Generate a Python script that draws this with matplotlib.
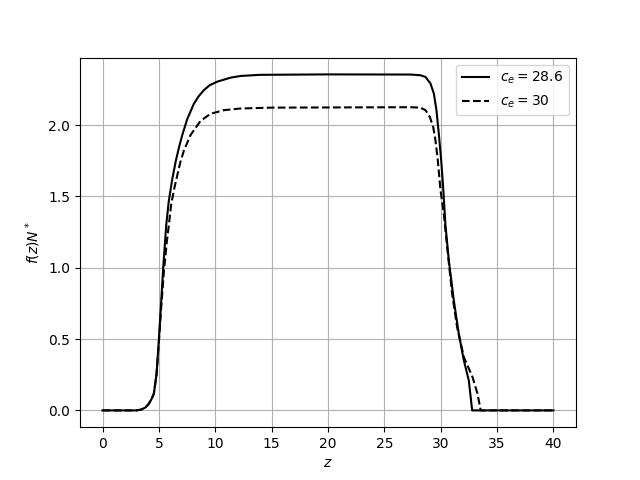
import matplotlib
matplotlib.use("Agg")
import matplotlib.pyplot as plt
import numpy as np

# values
z_a = [0, 3.0, 3.4, 3.8, 4.11, 4.35, 4.55, 4.79, 5.0, 5.2, 5.38, 5.65, 5.88, 6.18, 6.5,
       6.8, 7.07, 7.5, 8.1, 8.5, 8.98, 9.5, 10.17, 11.35, 12.24, 14, 20, 27.3, 28.2, 28.65,
       29.09, 29.39, 29.62, 29.83, 30.04, 30.21, 30.42, 30.72, 31.16, 31.6, 32.05, 32.49, 32.79, 40]
f_a = [0, 0, 0.005, 0.02, 0.047, 0.08, 0.117, 0.257, 0.5, 0.76, 1.0, 1.3, 1.47, 1.62, 1.75,
       1.85, 1.93, 2.04, 2.15, 2.2, 2.245, 2.28, 2.305, 2.333, 2.345, 2.353, 2.356, 2.355, 2.35, 2.338,
       2.292, 2.222, 2.105, 1.94, 1.754, 1.57, 1.3, 1.05, 0.772, 0.538, 0.351, 0.21, 0.0, 0.0]

z_b = [0, 3.0, 3.4, 3.8, 4.11, 4.35, 4.55, 4.79, 5.0, 5.2, 5.45, 5.7, 5.88, 6.1, 6.4,
       6.9, 7.21, 7.8, 8.69, 9.58, 10.76, 12.24, 15, 27.3, 28.2, 28.65, 29.03, 29.33, 29.53,
       29.74, 29.98, 30.27, 30.57, 31.01, 31.45, 32.05, 32.82, 33.26, 33.55, 40]
f_b = [0, 0, 0.005, 0.02, 0.047, 0.08, 0.117, 0.25, 0.48, 0.72, 0.98, 1.18, 1.3, 1.45, 1.57,
       1.74, 1.82, 1.93, 2.03, 2.08, 2.105, 2.117, 2.123, 2.126, 2.123, 2.105, 2.058, 1.988, 1.895,
       1.754, 1.544, 1.38, 1.146, 0.819, 0.585, 0.374, 0.234, 0.117, 0.0, 0.0]

fig, ax = plt.subplots(figsize=(6.4, 4.8), dpi=100)
ax.plot(z_a, f_a, color="black", linestyle="-", label=r"$c_e = 28.6$")
ax.plot(z_b, f_b, color="black", linestyle="--", label=r"$c_e = 30$")
ax.set_xlabel(r"$z$")
ax.set_ylabel(r"$f(z)N^*$")
ax.grid(True)
ax.legend(loc="upper right")

plt.savefig("out.png")
